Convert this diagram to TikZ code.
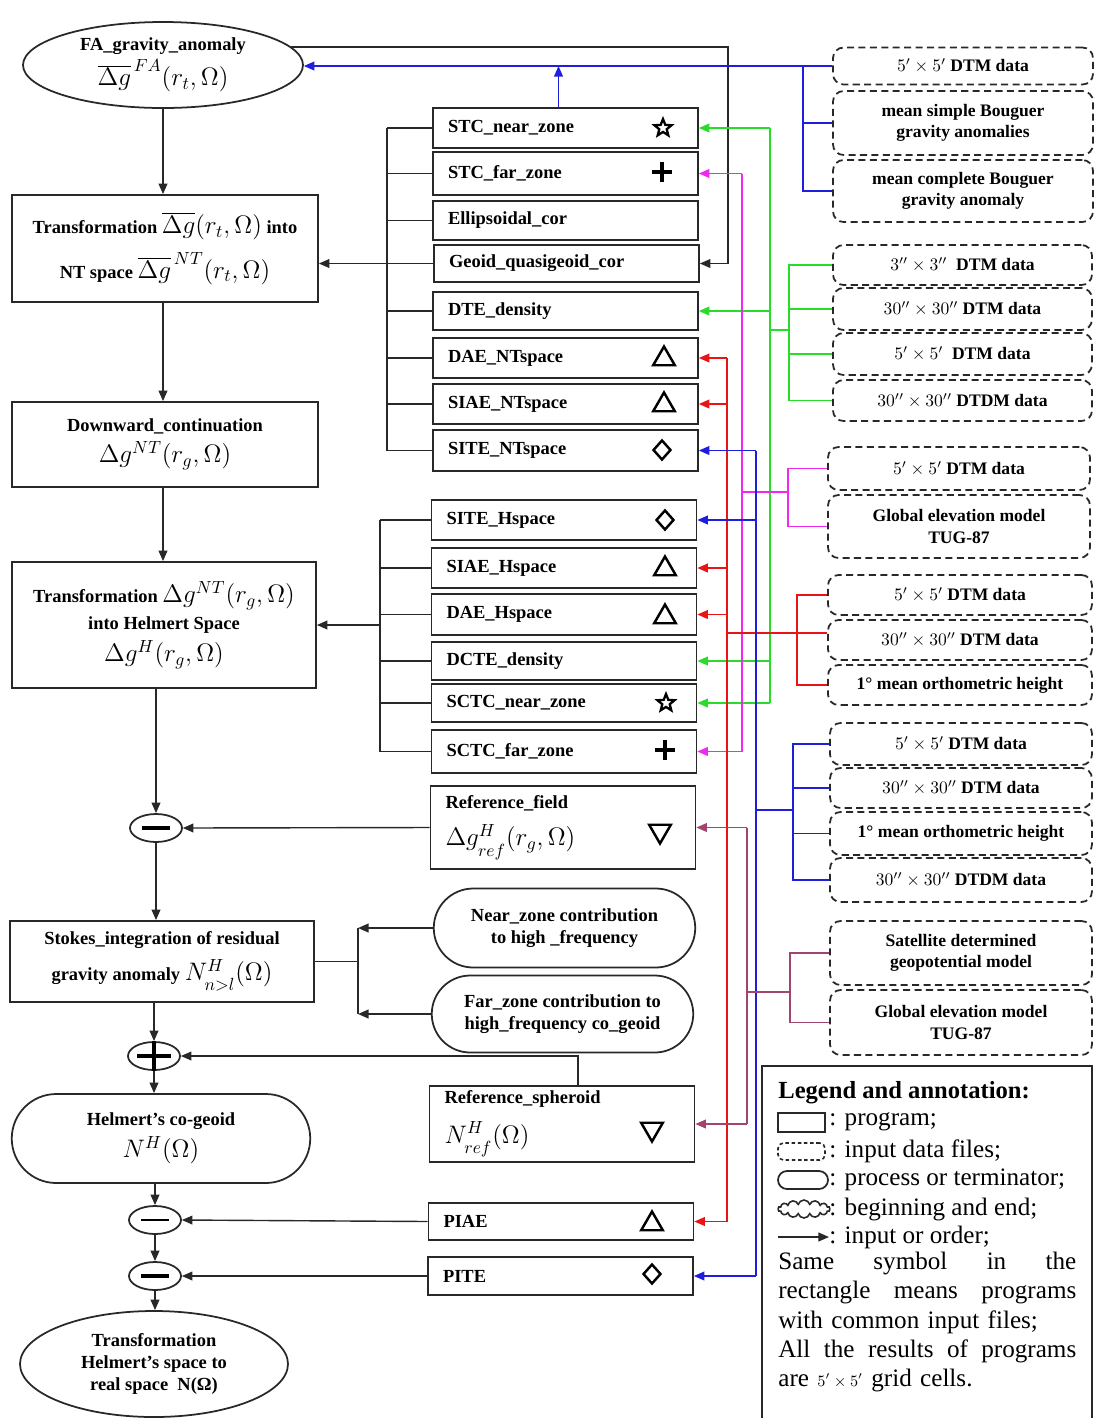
\documentclass[tikz,border=0pt]{standalone}
\usepackage{fontspec}
\setmainfont{Liberation Serif}
\usetikzlibrary{arrows.meta,shapes.geometric,shapes.misc,shapes.symbols,calc}
\newcommand{\PX}{0.02cm}
\newcommand{\mathsz}{\fontsize{14}{16}\selectfont}
\newcommand{\lowsub}[1]{\raisebox{-2.5pt}{$\scriptstyle #1$}}
\definecolor{cgreen}{RGB}{40,220,40}
\definecolor{cmag}{RGB}{240,40,240}
\definecolor{cred}{RGB}{235,20,20}
\definecolor{cblue}{RGB}{30,30,220}
\definecolor{cpur}{RGB}{160,70,110}
\definecolor{cblk}{RGB}{40,40,40}
\tikzset{
 ln/.style={line width=0.8pt, color=cblk},
 arw/.style={-{Triangle[length=6pt,width=5pt]}},
 lbl/.style={font=\fontsize{10.5}{12.5}\selectfont\bfseries},
 cbox/.style n args={2}{draw=cblk, line width=1pt, minimum width=#1*\PX, minimum height=#2*\PX, align=center, inner sep=1pt, lbl},
 pbox/.style={draw=cblk, line width=1pt, text width=4.7cm, inner xsep=0.3cm, inner ysep=0pt, minimum height=#1*\PX, align=left, lbl},
 dbox/.style n args={2}{draw=cblk, line width=1pt, dash pattern=on 4pt off 2.5pt, rounded corners=6pt, minimum width=#1*\PX, minimum height=#2*\PX, align=center, inner sep=1pt, font=\fontsize{10}{12}\selectfont\bfseries},
 ovl/.style n args={2}{ellipse, draw=cblk, line width=1pt, minimum width=#1*\PX, minimum height=#2*\PX, inner sep=0pt, align=center, lbl},
 stad/.style n args={2}{rounded rectangle, draw=cblk, line width=1pt, minimum width=#1*\PX, minimum height=#2*\PX, inner sep=1pt, align=center, lbl},
 opn/.style={ellipse, draw=cblk, line width=1pt, minimum width=52*\PX, minimum height=28*\PX, inner sep=0pt},
 tri/.style={regular polygon, regular polygon sides=3, draw=black, line width=1.4pt, minimum size=25*\PX, inner sep=0pt},
 dtri/.style={tri, shape border rotate=180},
 dia/.style={diamond, draw=black, line width=1.4pt, minimum width=18*\PX, minimum height=20*\PX, inner sep=0pt},
 strs/.style={star, star points=5, star point ratio=2.3, draw=black, line width=1.3pt, minimum size=18*\PX, inner sep=0pt},
 pls/.pic={\draw[line width=2pt] (-10,0)--(10,0) (0,-10)--(0,10);}
}
\begin{document}
\begin{tikzpicture}[x=0.02cm,y=-0.02cm]
\useasboundingbox (0,0) rectangle (1094,1418);

% ---------------- left column ----------------
\node[ovl={280}{86}] (fa) at (163,65) {FA\_gravity\_anomaly\\[2pt]{\mathsz$\overline{\Delta g}^{\,FA}(r_t,\Omega)$}};
\node[cbox={306}{107}] (t1) at (165,248.5) {Transformation {\mathsz$\overline{\Delta g}(r_t,\Omega)$} into\\[6pt]NT space {\mathsz$\overline{\Delta g}^{\,NT}(r_t,\Omega)$}};
\node[cbox={306}{85}] (dc) at (165,444.5) {Downward\_continuation\\[3pt]{\mathsz$\Delta g^{NT}(r_g,\Omega)$}};
\node[cbox={304}{126}] (t2) at (164,625) {Transformation {\mathsz$\Delta g^{NT}(r_g,\Omega)$}\\[3pt]into Helmert Space\\[3pt]{\mathsz$\Delta g^{H}(r_g,\Omega)$}};
\node[opn] (m1) at (156,828) {};
\node[cbox={304}{81}] (st) at (162,961.5) {Stokes\_integration of residual\\[5pt]gravity anomaly {\mathsz$N^{H}_{\lowsub{n>l}}(\Omega)$}};
\node[opn] (pl) at (154,1056) {};
\node[stad={302}{89}] (hc) at (161,1138.5) {Helmert's co-geoid\\[3pt]{\mathsz$N^{H}(\Omega)$}};
\node[opn] (m2) at (155,1220) {};
\node[opn] (m3) at (155,1276) {};
\node[ovl={268}{106}] (tr) at (154,1364) {Transformation\\Helmert's space to\\real space\ \ N(Ω)};

\draw[line width=2.2pt] ([xshift=-14*\PX]m1.center) -- ([xshift=14*\PX]m1.center);
\draw[line width=1.6pt] ([xshift=-14*\PX]m2.center) -- ([xshift=14*\PX]m2.center);
\draw[line width=2.4pt] ([xshift=-14*\PX]m3.center) -- ([xshift=14*\PX]m3.center);
\draw[line width=2pt] ([xshift=-17*\PX]pl.center) -- ([xshift=17*\PX]pl.center) (pl.north) -- (pl.south);

% ---------------- programs, upper group ----------------
\node[pbox=40] (stcn) at (565.5,128) {STC\_near\_zone};
\node[pbox=43] (stcf) at (565.5,173.5) {STC\_far\_zone};
\node[pbox=39] (ell) at (565.5,220.5) {Ellipsoidal\_cor};
\node[pbox=37] (geo) at (566.5,263.5) {Geoid\_quasigeoid\_cor};
\node[pbox=38] (dte) at (565.5,311) {DTE\_density};
\node[pbox=40] (daen) at (565.5,358) {DAE\_NTspace};
\node[pbox=40] (siaen) at (565.5,404) {SIAE\_NTspace};
\node[pbox=41] (siten) at (565.5,450.5) {SITE\_NTspace};

% ---------------- programs, lower group ----------------
\node[pbox=40] (siteh) at (564,520) {SITE\_Hspace};
\node[pbox=40] (siaeh) at (564,568) {SIAE\_Hspace};
\node[pbox=41] (daeh) at (564,614.5) {DAE\_Hspace};
\node[pbox=38] (dcte) at (564,661) {DCTE\_density};
\node[pbox=38] (sctcn) at (564,703) {SCTC\_near\_zone};
\node[pbox=43] (sctcf) at (564,751.5) {SCTC\_far\_zone};
\node[pbox=83] (reff) at (563,827.5) {Reference\_field\\[7pt]{\mathsz$\Delta g^{H}_{\lowsub{ref}}(r_g,\Omega)$}};
\node[stad={265}{79}] (near) at (564.5,928) {Near\_zone contribution\\to high \_frequency};
\node[stad={265}{77}] (far) at (562.5,1014) {Far\_zone contribution to\\high\_frequency co\_geoid};
\node[pbox=76] (refs) at (562,1124) {Reference\_spheroid\\[7pt]{\mathsz$N^{H}_{\lowsub{ref}}(\Omega)$}};
\node[pbox=37] (piae) at (561,1221.5) {PIAE};
\node[pbox=38] (pite) at (560.5,1276) {PITE};

% symbols
\node[strs] (s1) at (663,128) {};
\pic at (662,172) {pls};
\node[tri] (s3) at (664,359) {};
\node[tri] (s4) at (664,405) {};
\node[dia] (s5) at (662,450) {};
\node[dia] (s6) at (665,520) {};
\node[tri] (s7) at (665,569) {};
\node[tri] (s8) at (665,617) {};
\node[strs] (s9) at (666,703) {};
\pic at (665,750) {pls};
\node[dtri] (s11) at (660,831) {};
\node[dtri] (s12) at (652,1129) {};
\node[tri] (s13) at (652,1224) {};
\node[dia] (s14) at (652,1274) {};

% ---------------- data files ----------------
\node[dbox={260}{37}] (d1a) at (963,66) {$5'\times5'$ DTM data};
\node[dbox={260}{64}] (d1b) at (963,123) {mean simple Bouguer\\gravity anomalies};
\node[dbox={260}{62}] (d1c) at (963,191) {mean complete Bouguer\\gravity anomaly};
\node[dbox={259}{40}] (d2a) at (962.5,265) {$3''\times3''$\ \ DTM data};
\node[dbox={259}{42}] (d2b) at (962.5,309) {$30''\times30''$ DTM data};
\node[dbox={259}{42}] (d2c) at (962.5,354) {$5'\times5'$\ \ DTM data};
\node[dbox={259}{41}] (d2d) at (962.5,400.5) {$30''\times30''$ DTDM data};
\node[dbox={262}{43}] (d3a) at (959,468.5) {$5'\times5'$ DTM data};
\node[dbox={262}{63}] (d3b) at (959,526.5) {Global elevation model\\TUG-87};
\node[dbox={264}{40}] (d4a) at (960,595) {$5'\times5'$ DTM data};
\node[dbox={264}{40}] (d4b) at (960,640) {$30''\times30''$ DTM data};
\node[dbox={264}{40}] (d4c) at (960,685) {1° mean orthometric height};
\node[dbox={262}{42}] (d5a) at (961,744) {$5'\times5'$ DTM data};
\node[dbox={262}{40}] (d5b) at (961,788) {$30''\times30''$ DTM data};
\node[dbox={262}{43}] (d5c) at (961,833.5) {1° mean orthometric height};
\node[dbox={262}{44}] (d5d) at (961,880) {$30''\times30''$ DTDM data};
\node[dbox={262}{64}] (d6a) at (961,953) {Satellite determined\\geopotential model};
\node[dbox={262}{65}] (d6b) at (961,1022.5) {Global elevation model\\TUG-87};

% ---------------- main chain ----------------
\coordinate (cx) at (163,0);
\draw[ln,arw] (fa.south -| cx) -- (t1.north -| cx);
\draw[ln,arw] (t1.south -| cx) -- (dc.north -| cx);
\draw[ln,arw] (dc.south -| cx) -- (t2.north -| cx);
\draw[ln,arw] (t2.south -| m1) -- (m1.north);
\draw[ln,arw] (reff.west) -- (m1.east);
\draw[ln,arw] (m1.south) -- (m1.south |- st.north);
\draw[ln,arw] (st.south -| pl) -- (pl.north);
\draw[ln,arw] (pl.south) -- (pl.south |- hc.north);
\draw[ln,arw] (hc.south -| m2) -- (m2.north);
\draw[ln,arw] (m2.south) -- (m3.north);
\draw[ln,arw] (m3.south) -- (m3.south |- tr.north);
\draw[ln,arw] (piae.west) -- (m2.east);
\draw[ln,arw] (pite.west) -- (m3.east);

% left brackets
\coordinate (lb1) at (387,0);
\draw[ln] (stcn.west -| lb1) -- (siten.west -| lb1);
\foreach \n in {stcn,stcf,ell,geo,dte,daen,siaen,siten} \draw[ln] (\n.west -| lb1) -- (\n.west);
\draw[ln,arw] (geo.west -| lb1) -- (geo.west -| t1.east);
\coordinate (lb2) at (380,0);
\draw[ln] (siteh.west -| lb2) -- (sctcf.west -| lb2);
\foreach \n in {siteh,siaeh,daeh,dcte,sctcn,sctcf} \draw[ln] (\n.west -| lb2) -- (\n.west);
\draw[ln,arw] (t2.east -| lb2) -- (t2.east);

% Stokes bracket
\coordinate (sbx) at (358,0);
\draw[ln] (st.east) -- (st.east -| sbx);
\draw[ln] (near.west -| sbx) -- (far.west -| sbx);
\draw[ln,arw] (near.west) -- (near.west -| sbx);
\draw[ln,arw] (far.west) -- (far.west -| sbx);

% reference spheroid to plus
\coordinate (rsx) at (578,0);
\draw[ln,arw] (refs.north -| rsx) -- (rsx |- pl.east) -- (pl.east);

% black top connector
\coordinate (bkx) at (728,0);
\draw[ln,arw] (fa.8) -- (fa.8 -| bkx) |- (geo.east);

% blue top
\draw[ln,arw,color=cblue] (d1a.west) -- (d1a.west -| fa.east);
\coordinate (b1x) at (803,0);
\draw[ln,color=cblue] (d1a.west -| b1x) |- (d1c.west);
\draw[ln,color=cblue] (d1b.west) -- (d1b.west -| b1x);
\coordinate (su) at ([xshift=-7*\PX]stcn.north);
\draw[ln,arw,color=cblue] (su) -- (su |- d1a.west);

% green
\coordinate (grx) at (770,0);
\draw[ln,color=cgreen] (stcn.east -| grx) -- (sctcn.east -| grx);
\foreach \n in {stcn,dte,dcte,sctcn} \draw[ln,arw,color=cgreen] (\n.east -| grx) -- (\n.east);
\coordinate (gbx) at (789,0);
\draw[ln,color=cgreen] (d2a.west) -- (d2a.west -| gbx) -- (d2d.west -| gbx) -- (d2d.west);
\draw[ln,color=cgreen] (d2b.west) -- (d2b.west -| gbx) (d2c.west) -- (d2c.west -| gbx);
\coordinate (gj) at (789,330);
\draw[ln,color=cgreen] (gj) -- (gj -| grx);

% magenta
\coordinate (mgx) at (742,0);
\draw[ln,color=cmag] (stcf.east -| mgx) -- (sctcf.east -| mgx);
\foreach \n in {stcf,sctcf} \draw[ln,arw,color=cmag] (\n.east -| mgx) -- (\n.east);
\coordinate (mbx) at (788,0);
\draw[ln,color=cmag] (d3a.west) -- (d3a.west -| mbx) -- (d3b.west -| mbx) -- (d3b.west);
\coordinate (mj) at (788,492);
\draw[ln,color=cmag] (mj) -- (mj -| mgx);

% red
\coordinate (rdx) at (727,0);
\draw[ln,color=cred] (daen.east -| rdx) -- (piae.east -| rdx);
\foreach \n in {daen,siaen,siaeh,daeh,piae} \draw[ln,arw,color=cred] (\n.east -| rdx) -- (\n.east);
\coordinate (rbx) at (797,0);
\draw[ln,color=cred] (d4a.west) -- (d4a.west -| rbx) -- (d4c.west -| rbx) -- (d4c.west);
\coordinate (rj) at (797,633);
\draw[ln,color=cred] (rj -| rdx) -- (rj -| d4b.west);

% blue
\coordinate (blx) at (756,0);
\draw[ln,color=cblue] (siten.east -| blx) -- (pite.east -| blx);
\foreach \n in {siten,siteh,pite} \draw[ln,arw,color=cblue] (\n.east -| blx) -- (\n.east);
\coordinate (bbx) at (793,0);
\draw[ln,color=cblue] (d5a.west) -- (d5a.west -| bbx) -- (d5d.west -| bbx) -- (d5d.west);
\draw[ln,color=cblue] (d5b.west) -- (d5b.west -| bbx) (d5c.west) -- (d5c.west -| bbx);
\coordinate (bj) at (793,810);
\draw[ln,color=cblue] (bj) -- (bj -| blx);

% purple
\coordinate (pux) at (747,0);
\draw[ln,color=cpur] (reff.east -| pux) -- (refs.east -| pux);
\foreach \n in {reff,refs} \draw[ln,arw,color=cpur] (\n.east -| pux) -- (\n.east);
\coordinate (pbx) at (790,0);
\draw[ln,color=cpur] (d6a.west) -- (d6a.west -| pbx) -- (d6b.west -| pbx) -- (d6b.west);
\coordinate (pj) at (790,992);
\draw[ln,color=cpur] (pj) -- (pj -| pux);

% ---------------- legend ----------------
\draw[line width=1pt, color=cblk] (762,1418) -- (762,1066) -- (1092,1066) -- (1092,1418);
\node[anchor=west, inner sep=0, font=\fontsize{14}{16}\selectfont\bfseries] (lgh) at (778,1093) {Legend and annotation:};
\node[draw=cblk, line width=1pt, minimum width=47*\PX, minimum height=19*\PX, inner sep=0] (lg1) at (801.5,1122.5) {};
\node[draw=cblk, line width=0.9pt, dash pattern=on 2pt off 1.5pt, rounded corners=3pt, minimum width=47*\PX, minimum height=17*\PX, inner sep=0] (lg2) at (801.5,1151.5) {};
\node[rounded rectangle, draw=cblk, line width=1pt, minimum width=50*\PX, minimum height=18*\PX, inner sep=0] (lg3) at (803,1180) {};
\node[cloud, cloud puffs=14, aspect=3, draw=cblk, line width=0.9pt, minimum width=52*\PX, minimum height=18*\PX, inner sep=0] (lg4) at (804,1209) {};
\coordinate (la1) at (778,1237);
\coordinate (la2) at (829,1237);
\draw[ln,arw] (la1) -- (la2);
\begin{scope}[every node/.style={anchor=west, inner sep=0, font=\fontsize{14.3}{16}\selectfont}]
\node (lt1) at (829,1122) {: program;};
\node (lt2) at (829,1151) {: input data files;};
\node (lt3) at (829,1180) {: process or terminator;};
\node (lt4) at (829,1209) {: beginning and end;};
\node (lt5) at (829,1237) {: input or order;};
\end{scope}
\node[anchor=north west, inner sep=0, text width=5.96cm, align=left, font=\fontsize{14.3}{16.6}\selectfont] (lpar) at (778,1252)
 {\makebox[5.96cm][l]{Same\hfill symbol\hfill in\hfill the}\\
  \makebox[5.96cm][l]{rectangle\hfill means\hfill programs}\\
  with common input files;\\
  \makebox[5.96cm][l]{All\hfill the\hfill results\hfill of\hfill programs}\\
  are {\small$5'\times5'$} grid cells.};
\end{tikzpicture}
\end{document}
